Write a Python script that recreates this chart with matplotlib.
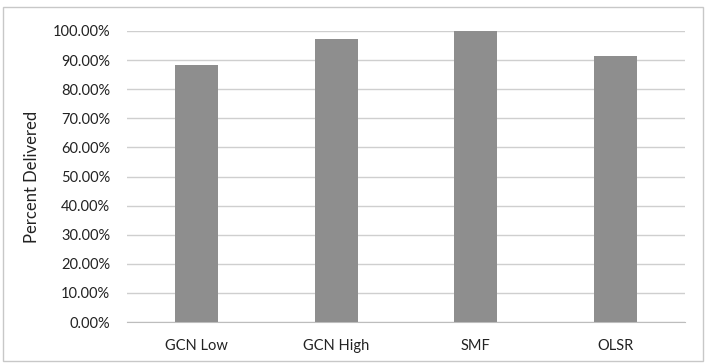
import numpy as np
import matplotlib.pyplot as plt
from matplotlib.patches import Rectangle
from matplotlib.ticker import PercentFormatter

categories = ["GCN Low", "GCN High", "SMF", "OLSR"]
delivered = [0.883, 0.973, 0.999, 0.914]
yticks = np.arange(0, 1.01, 0.1)

plt.rcParams["font.family"] = ["Lato", "DejaVu Sans"]

fig = plt.figure(figsize=(7.08, 3.63), dpi=100)
ax = fig.add_axes([127/708, 1 - 322/363, (685 - 127)/708, (322 - 31)/363])

# frame around whole chart, like the spreadsheet chart area
fig.patches.append(Rectangle((3/708, 2/363), 700/708, 354/363, transform=fig.transFigure,
                             fill=False, edgecolor="#c8c8c8", linewidth=1.0))

x = np.arange(len(categories))
ax.bar(x, delivered, width=0.31, color="#8e8e8e", zorder=3)

ax.set_xlim(-0.5, len(categories) - 0.5)
ax.set_ylim(0, 1.0)
ax.set_yticks(yticks)
ax.yaxis.set_major_formatter(PercentFormatter(1.0, decimals=2))
ax.set_xticks(x)
ax.set_xticklabels(categories)
ax.grid(axis="y", color="#cfcfcf", linewidth=1.0, zorder=0)
ax.tick_params(axis="both", length=0, labelsize=10.5, colors="#222222")
ax.tick_params(axis="y", pad=12)
ax.tick_params(axis="x", pad=12)
for s in ["top", "right", "left"]:
    ax.spines[s].set_visible(False)
ax.spines["bottom"].set_color("#bdbdbd")

ax.set_ylabel("Percent Delivered", fontsize=12, color="#222222")
ax.yaxis.set_label_coords(-(127 - 40)/558, 0.5)

fig.savefig("out.png", dpi=100)
